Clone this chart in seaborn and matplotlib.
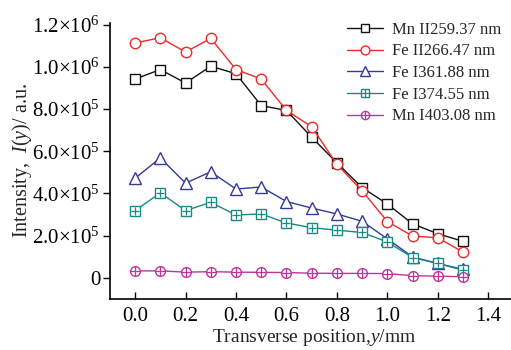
import matplotlib
matplotlib.use("Agg")
import matplotlib.pyplot as plt
import seaborn as sns
import numpy as np
import pandas as pd

# ---- data ----
positions = [0.0, 0.1, 0.2, 0.3, 0.4, 0.5, 0.6, 0.7, 0.8, 0.9, 1.0, 1.1, 1.2, 1.3]
mn_ii_259 = [0.943e6, 0.988e6, 0.924e6, 1.004e6, 0.968e6, 0.817e6, 0.794e6, 0.667e6,
             0.545e6, 0.428e6, 0.350e6, 0.256e6, 0.209e6, 0.173e6]
fe_ii_266 = [1.114e6, 1.139e6, 1.071e6, 1.136e6, 0.988e6, 0.943e6, 0.794e6, 0.717e6,
             0.538e6, 0.413e6, 0.267e6, 0.198e6, 0.190e6, 0.122e6]
fe_i_361 = [0.472e6, 0.569e6, 0.449e6, 0.503e6, 0.421e6, 0.431e6, 0.362e6, 0.331e6,
            0.303e6, 0.268e6, 0.185e6, 0.099e6, 0.068e6, 0.040e6]
fe_i_374 = [0.319e6, 0.403e6, 0.319e6, 0.358e6, 0.298e6, 0.303e6, 0.260e6, 0.238e6,
            0.226e6, 0.215e6, 0.170e6, 0.096e6, 0.068e6, 0.036e6]
mn_i_403 = [0.033e6, 0.033e6, 0.027e6, 0.029e6, 0.027e6, 0.026e6, 0.025e6, 0.022e6,
            0.021e6, 0.021e6, 0.020e6, 0.010e6, 0.008e6, 0.005e6]
series_labels = ["Mn II259.37 nm", "Fe II266.47 nm", "Fe I361.88 nm",
                 "Fe I374.55 nm", "Mn I403.08 nm"]
x_ticks = [0.0, 0.2, 0.4, 0.6, 0.8, 1.0, 1.2, 1.4]
x_tick_labels = ["0.0", "0.2", "0.4", "0.6", "0.8", "1.0", "1.2", "1.4"]
y_ticks = [0, 2e5, 4e5, 6e5, 8e5, 1e6, 1.2e6]
y_tick_labels = ["0", r"2.0×10$^{5}$", r"4.0×10$^{5}$", r"6.0×10$^{5}$",
                 r"8.0×10$^{5}$", r"1.0×10$^{6}$", r"1.2×10$^{6}$"]
x_label = "Transverse position,$\\mathit{y}$/mm"
y_label = "Intensity,  $\\mathit{I}$($\\mathit{y}$)/ a.u."

sns.set_theme(style="ticks")
plt.rcParams['font.family'] = ['Liberation Serif', 'DejaVu Serif']
plt.rcParams['mathtext.fontset'] = 'custom'
plt.rcParams['mathtext.rm'] = 'Liberation Serif'
plt.rcParams['mathtext.it'] = 'Liberation Serif:italic'

fig = plt.figure(figsize=(5.11, 3.5), dpi=100)
ax = fig.add_axes([0.215, 0.146, 0.785, 0.789])

series = [mn_ii_259, fe_ii_266, fe_i_361, fe_i_374, mn_i_403]
colors = ["#111111", "#f02828", "#34399a", "#178a82", "#c0339c"]
markers = ["s", "o", "^", "s", "o"]
msizes = [7.0, 7.5, 8.5, 6.5, 7.0]
plus = [False, False, False, True, True]

handles = []
for vals, lab, col, mk, ms, pl in zip(series, series_labels, colors, markers, msizes, plus):
    df = pd.DataFrame({"x": positions, "y": vals})
    sns.lineplot(data=df, x="x", y="y", ax=ax, color=col, linewidth=1.0,
                 marker=mk, markersize=ms, markerfacecolor="white",
                 markeredgecolor=col, markeredgewidth=1.0, legend=False)
    line = ax.lines[-1]
    if pl:
        p, = ax.plot(positions, vals, linestyle="none", marker="+", markersize=ms * 0.95,
                     color=col, markeredgewidth=0.9)
        handles.append((line, p))
    else:
        handles.append(line)

leg = ax.legend(handles, series_labels, loc="upper right", bbox_to_anchor=(1.0, 1.04),
                frameon=False, fontsize=12, handlelength=2.2, handletextpad=0.5,
                labelspacing=0.34, borderaxespad=0.2, markerscale=0.85)

ax.set_xlim(-0.1, 1.49)
ax.set_ylim(-1.0e5, 1.21e6)
ax.set_xticks(x_ticks)
ax.set_xticklabels(x_tick_labels)
ax.set_yticks(y_ticks)
ax.set_yticklabels(y_tick_labels)
ax.tick_params(axis="x", direction="in", length=5, width=1, labelsize=15, pad=6, colors="black")
ax.tick_params(axis="y", direction="out", length=5, width=1, labelsize=15, pad=2, colors="black")
ax.set_xlabel(x_label, fontsize=14)
ax.xaxis.set_label_coords(0.51, -0.1)
ax.set_ylabel(y_label, fontsize=14.5)
ax.yaxis.set_label_coords(-0.19, 0.5)
sns.despine(ax=ax)
for s in ["left", "bottom"]:
    ax.spines[s].set_linewidth(1.2)
    ax.spines[s].set_color("black")

fig.savefig("out.png", dpi=100)
